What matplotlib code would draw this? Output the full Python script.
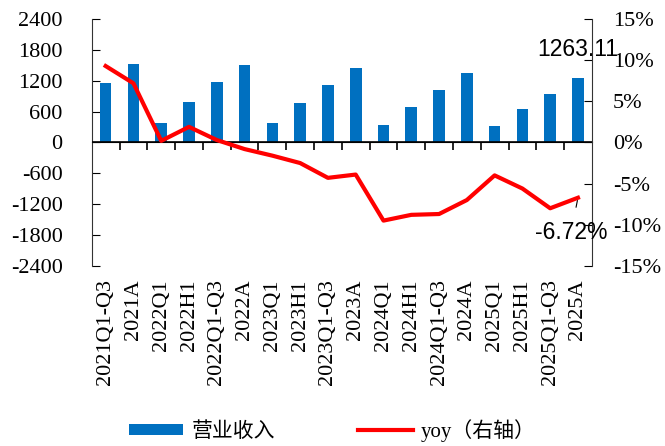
import matplotlib
matplotlib.use("Agg")
import matplotlib.pyplot as plt
from matplotlib.ticker import FuncFormatter, MultipleLocator

# data
periods = ["2021Q1-Q3", "2021A", "2022Q1", "2022H1", "2022Q1-Q3", "2022A",
           "2023Q1", "2023H1", "2023Q1-Q3", "2023A", "2024Q1", "2024H1",
           "2024Q1-Q3", "2024A", "2025Q1", "2025H1", "2025Q1-Q3", "2025A"]
revenue = [1164, 1527, 384, 780, 1170, 1515, 370, 760, 1111, 1456,
           335, 696, 1020, 1352, 325, 657, 936, 1263.11]
yoy = [9.3, 7.2, 0.2, 1.9, 0.3, -0.8, -1.6, -2.5, -4.3, -3.9,
       -9.5, -8.8, -8.7, -7.0, -4.0, -5.6, -8.0, -6.72]

serif = ["Liberation Serif", "Noto Sans CJK SC"]
plt.rcParams["font.family"] = serif
plt.rcParams["axes.unicode_minus"] = False

BLUE = "#0070C0"
RED = "#FF0000"

fig = plt.figure(figsize=(6.65, 4.46), dpi=100)
ax = fig.add_axes([0.138, 0.404, 0.752, 0.553])
x = list(range(len(periods)))

ax.bar(x, revenue, width=0.42, color=BLUE, label="营业收入", zorder=2)
ax.set_xlim(-0.5, len(periods) - 0.5)
ax.set_ylim(-2400, 2400)
ax.yaxis.set_major_locator(MultipleLocator(600))
ax.tick_params(axis="y", direction="in", length=6, pad=21, labelsize=16)

ax.set_xticks(x)
ax.set_xticklabels(periods, rotation=90, fontsize=16)
ax.tick_params(axis="x", length=0, pad=9.5)

for s in ["top", "bottom", "right"]:
    ax.spines[s].set_visible(False)
ax.spines["left"].set_color("#333333")

# zero line with small category boundary ticks
ax.axhline(0, color="black", lw=1.2, zorder=3)
sec = ax.secondary_xaxis(0.5)
sec.set_xticks([i + 0.5 for i in x[:-1]])
sec.set_xticklabels([])
sec.tick_params(axis="x", direction="in", length=6, width=1.2)
sec.spines["bottom"].set_visible(False)

ax2 = ax.twinx()
ax2.plot(x, yoy, color=RED, lw=3, label="yoy（右轴）", zorder=4)
ax2.set_ylim(-15, 15)
ax2.yaxis.set_major_locator(MultipleLocator(5))
ax2.yaxis.set_major_formatter(FuncFormatter(lambda v, p: f"{v:.0f}%"))
ax2.tick_params(axis="y", direction="in", length=6, pad=15, labelsize=16)
for s in ["top", "bottom", "left"]:
    ax2.spines[s].set_visible(False)
ax2.spines["right"].set_color("#333333")

# last-period labels
ax.annotate(f"{revenue[-1]:.2f}", xy=(x[-1], revenue[-1]), xytext=(0, 20),
            textcoords="offset points", ha="center", va="center",
            fontsize=16.5, family="Liberation Sans")
ax2.annotate(f"{yoy[-1]:.2f}%", xy=(x[-1], yoy[-1]), xytext=(-5, -25),
             textcoords="offset points", ha="center", va="center",
             fontsize=16.5, family="Liberation Sans",
             arrowprops=dict(arrowstyle="-", color="black", lw=0.8,
                             shrinkA=8, shrinkB=2))

h1, l1 = ax.get_legend_handles_labels()
h2, l2 = ax2.get_legend_handles_labels()
fig.legend(h1 + h2, l1 + l2, loc="center", bbox_to_anchor=(0.5, 0.035),
           ncol=2, frameon=False, fontsize=15, handlelength=2.6,
           handleheight=0.45, columnspacing=4.0, handletextpad=0.4)

fig.savefig("out.png", dpi=100)
